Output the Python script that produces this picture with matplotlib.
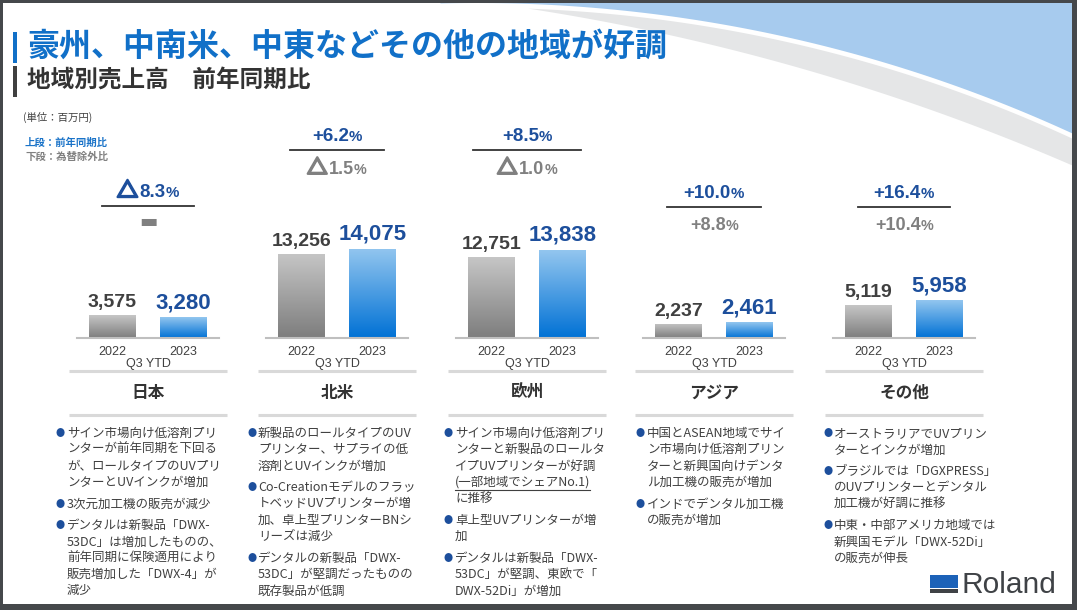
import numpy as np
import matplotlib
matplotlib.use("Agg")
import matplotlib.pyplot as plt
import matplotlib.patheffects as pe
from matplotlib.patches import Rectangle
from matplotlib.colors import LinearSegmentedColormap

JP = ['Noto Sans CJK JP', 'DejaVu Sans']
NUM = ['Liberation Sans', 'Noto Sans CJK JP', 'DejaVu Sans']
plt.rcParams['font.family'] = JP

# データ
regions = ['日本', '北米', '欧州', 'アジア', 'その他']
years = ['2022', '2023']
period = 'Q3 YTD'
sales_2022 = [3575, 13256, 12751, 2237, 5119]
sales_2023 = [3280, 14075, 13838, 2461, 5958]
yoy = ['△8.3', '+6.2', '+8.5', '+10.0', '+16.4']
fx_excl = [None, '△1.5', '△1.0', '+8.8', '+10.4']

comments = [
    [['サイン市場向け低溶剤プリ', 'ンターが前年同期を下回る', 'が、ロールタイプのUVプリ', 'ンターとUVインクが増加'],
     ['3次元加工機の販売が減少'],
     ['デンタルは新製品「DWX-', '53DC」は増加したものの、', '前年同期に保険適用により', '販売増加した「DWX-4」が', '減少']],
    [['新製品のロールタイプのUV', 'プリンター、サプライの低', '溶剤とUVインクが増加'],
     ['Co-Creationモデルのフラッ', 'トベッドUVプリンターが増', '加、卓上型プリンターBNシ', 'リーズは減少'],
     ['デンタルの新製品「DWX-', '53DC」が堅調だったものの', '既存製品が低調']],
    [['サイン市場向け低溶剤プリ', 'ンターと新製品のロールタ', 'イプUVプリンターが好調', '(一部地域でシェアNo.1)', 'に推移'],
     ['卓上型UVプリンターが増', '加'],
     ['デンタルは新製品「DWX-', '53DC」が堅調、東欧で「', 'DWX-52Di」が増加']],
    [['中国とASEAN地域でサイ', 'ン市場向け低溶剤プリン', 'ターと新興国向けデンタ', 'ル加工機の販売が増加'],
     ['インドでデンタル加工機', 'の販売が増加']],
    [['オーストラリアでUVプリン', 'ターとインクが増加'],
     ['ブラジルでは「DGXPRESS」', 'のUVプリンターとデンタル', '加工機が好調に推移'],
     ['中東・中部アメリカ地域では', '新興国モデル「DWX-52Di」', 'の販売が伸長']],
]
underlined = ('(一部地域でシェアNo.1)',)

# レイアウト
W, H = 1077, 610
centers = [148, 337, 527, 714, 904]
pct_top = [190, 134, 134, 191, 191]
pct_half = [46, 47, 54, 47, 46]
bullet_x = [67, 258, 455, 647, 834]
px_per_1000 = 6.35
ymax = 16000

NAVY = '#1d4f9c'
DARK = '#404040'
GRAY = '#808080'

fig = plt.figure(figsize=(W / 100, H / 100), dpi=100)
ax0 = fig.add_axes([0, 0, 1, 1])
ax0.set_xlim(0, W)
ax0.set_ylim(H, 0)
ax0.axis('off')
r = fig.canvas.get_renderer()

# 背景の円弧
xs = np.linspace(440, W, 600)
def arc(cx, cy, R):
    return cy - np.sqrt(np.clip(R ** 2 - (xs - cx) ** 2, 0, None))
y_blue = arc(476, 1428.7, 1426.2)
y_g1 = arc(476, 1428.7, 1421.5)
y_g2 = arc(190.2, 2201.3, 2219.0)
ax0.fill_between(xs, 0, y_blue, color='#a7cbee', lw=0, zorder=0)
ax0.fill_between(xs, y_g1, y_g2, where=y_g2 > y_g1, color='#e5e6e7', lw=0, zorder=0)

# 枠
fc = '#45484b'
for rx, ry, rw, rh in [(0, 0, W, 3), (0, 0, 3, H), (W - 5, 0, 5, H), (0, H - 6, W, 6)]:
    ax0.add_patch(Rectangle((rx, ry), rw, rh, color=fc, lw=0, zorder=10))

# タイトル
ax0.add_patch(Rectangle((13, 32), 4, 31, color='#1170c8', lw=0))
ax0.add_patch(Rectangle((13, 66), 4, 31, color=DARK, lw=0))
ax0.text(27, 47, '豪州、中南米、中東などその他の地域が好調', fontsize=23, fontweight='bold',
         color='#1170c8', va='center', ha='left')
ax0.text(27, 80, '地域別売上高　前年同期比', fontsize=17, fontweight='bold',
         color='#333333', va='center', ha='left')
ax0.text(23, 117, '(単位：百万円)', fontsize=7.5, color=DARK, va='center')
ax0.text(25, 143, '上段：前年同期比', fontsize=7.5, fontweight='bold', color='#1a73c8', va='center')
ax0.text(25, 157, '下段：為替除外比', fontsize=7.5, fontweight='bold', color=GRAY, va='center')


def pct(x, y, s, color, size):
    base = y + 0.36 * size * 100 / 72
    S = size * 100 / 72
    parts = []
    if s.startswith('△'):
        tri = ax0.text(0, base + 0.5, '△', fontsize=size * 1.12, fontweight='bold', color=color,
                       family=JP, va='baseline')
        tri.set_path_effects([pe.withStroke(linewidth=1.7, foreground=color)])
        parts.append((tri, 1.04 * S + 3))
        s = s[1:]
    for txt, fs in [(s, size), ('%', size * 0.8)]:
        t = ax0.text(0, base, txt, fontsize=fs, fontweight='bold', color=color,
                     family=NUM, va='baseline')
        parts.append((t, t.get_window_extent(r).width))
    xpos = x - sum(w for _, w in parts) / 2
    for t, w in parts:
        t.set_x(xpos)
        xpos += w


cmap_gray = LinearSegmentedColormap.from_list('g', ['#7d7d7d', '#c6c6c6'])
cmap_blue = LinearSegmentedColormap.from_list('b', ['#0071d5', '#93c6ef'])
grad = np.linspace(0, 1, 256).reshape(-1, 1)

for i, reg in enumerate(regions):
    c = centers[i]
    # 前年同期比
    top = pct_top[i]
    pct(c, top, yoy[i], NAVY, 13.5)
    ax0.plot([c - pct_half[i], c + pct_half[i]], [top + 15.5, top + 15.5], color='#333333', lw=1.3)
    if fx_excl[i] is None:
        ax0.text(c, top + 32, '▬', fontsize=14, color=GRAY, family='DejaVu Sans', ha='center', va='center')
    else:
        pct(c, top + 33, fx_excl[i], GRAY, 13)

    # 棒グラフ
    ax = fig.add_axes([(c - 71) / W, (H - 338) / H, 142 / W, ymax * px_per_1000 / 1000 / H])
    ax.patch.set_alpha(0)
    vals = [sales_2022[i], sales_2023[i]]
    bars = ax.bar([0, 1], vals, width=0.66, color='none', lw=0)
    for b, cm in zip(bars, [cmap_gray, cmap_blue]):
        x0, w, h = b.get_x(), b.get_width(), b.get_height()
        im = ax.imshow(grad, cmap=cm, extent=[x0, x0 + w, 0, h], origin='lower', aspect='auto')
        im.set_clip_path(b)
    ax.annotate(f'{vals[0]:,}', (0, vals[0]), xytext=(0, 3), textcoords='offset points',
                ha='center', va='bottom', fontsize=14, fontweight='bold', color=DARK, family=NUM)
    ax.annotate(f'{vals[1]:,}', (1, vals[1]), xytext=(0, 3), textcoords='offset points',
                ha='center', va='bottom', fontsize=16, fontweight='bold', color=NAVY, family=NUM)
    ax.set_xlim(-0.5, 1.5)
    ax.set_ylim(0, ymax)
    ax.set_yticks([])
    ax.set_xticks([0, 1], years, fontsize=9, color=DARK, family=NUM)
    ax.tick_params(axis='x', length=0, pad=5.5)
    ax.set_xlabel(period, fontsize=9, color=DARK, family=NUM, labelpad=0.5)
    for s in ['left', 'right', 'top']:
        ax.spines[s].set_visible(False)
    ax.spines['bottom'].set_color('#bfbfbf')
    ax.spines['bottom'].set_linewidth(1.5)

    # 地域名
    ax0.plot([c - 79, c + 79], [371, 371], color='#d9d9d9', lw=2.2, solid_capstyle='butt')
    ax0.text(c, 393, reg, fontsize=12, fontweight='bold', color='#333333', ha='center', va='center')
    ax0.plot([c - 79, c + 79], [415, 415], color='#d9d9d9', lw=2.2, solid_capstyle='butt')

    # コメント
    bx = bullet_x[i]
    line = 0
    for k, bullet in enumerate(comments[i]):
        for j, txt in enumerate(bullet):
            y = 433.5 + 16.3 * line + 5.3 * k
            if j == 0:
                ax0.text(bx - 2, y, '●', fontsize=6.5, color=NAVY, ha='right', va='center')
            t = ax0.text(bx, y, txt, fontsize=9, color=DARK, ha='left', va='center')
            if txt in underlined:
                w = t.get_window_extent(r).width
                ax0.plot([bx, bx + w], [y + 8, y + 8], color=DARK, lw=0.8)
            line += 1

# ロゴ
ax0.add_patch(Rectangle((930, 575), 28, 13, color='#1c62b8', lw=0))
ax0.add_patch(Rectangle((930, 589), 28, 4, color='#3f4246', lw=0))
ax0.text(961, 593, 'Roland', fontsize=21.5, color='#3f4246', family=NUM, ha='left', va='baseline')

fig.savefig('out.png', dpi=100)
